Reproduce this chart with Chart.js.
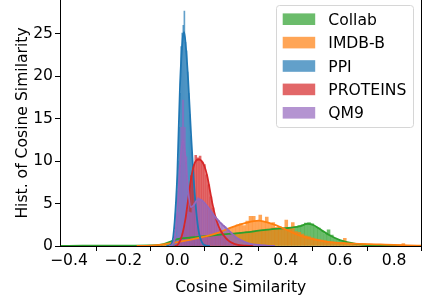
<!DOCTYPE html>
<html>
<head>
<meta charset="utf-8">
<script src="https://cdn.jsdelivr.net/npm/chart.js@4.4.1/dist/chart.umd.min.js"></script>
<style>
  html, body { margin: 0; padding: 0; background: #fff; }
  #wrap { width: 423px; height: 296px; }
</style>
</head>
<body>
<div id="wrap"><canvas id="histChart" width="423" height="296"></canvas></div>
<script>
// series, in legend order
const seriesNames = ['Collab', 'IMDB-B', 'PPI', 'PROTEINS', 'QM9'];
const seriesColors = ['#2ca02c', '#ff7f0e', '#1f77b4', '#d62728', '#9467bd'];

const xTicks = [-0.4, -0.2, 0.0, 0.2, 0.4, 0.6, 0.8];
const yTicks = [0, 5, 10, 15, 20, 25];

// histogram bins: first bin edge, bin width, density per bin
const collabBinStart = -0.06, collabBinWidth = 0.012;
const collabHist = [0.1, 0.2, 0.35, 0.55, 0.75, 0.9, 0.95, 1.0, 1.0, 1.05, 1.1, 1.1, 1.15, 1.15, 1.2, 1.25,
  1.3, 1.3, 1.35, 1.4, 1.45, 1.45, 1.5, 1.55, 1.6, 1.6, 1.7, 1.65, 1.8, 1.75, 1.85, 1.9, 2.0, 1.95, 2.1, 2.0,
  2.15, 2.05, 2.1, 2.2, 2.05, 2.25, 2.4, 2.5, 2.7, 2.75, 2.6, 2.3, 2.1, 1.75, 1.45, 1.9, 1.3, 0.9, 0.75, 0.6,
  0.45, 0.35, 0.25, 0.2, 0.15, 0.1, 0.08, 0.06, 0.05, 0.04, 0.03, 0.02];

const imdbBinStart = -0.06, imdbBinWidth = 0.012;
const imdbHist = [0.05, 0.1, 0.15, 0.25, 0.35, 0.45, 0.5, 0.6, 0.7, 0.75, 0.85, 0.9, 1.0, 1.1, 1.2, 1.35,
  1.45, 1.6, 1.7, 1.85, 2.0, 2.1, 2.3, 2.5, 2.6, 2.4, 2.95, 3.5, 3.5, 2.9, 3.65, 2.87, 3.4, 2.67, 2.75, 2.2,
  2.3, 2.1, 3.07, 2.2, 2.75, 1.7, 1.6, 1.4, 1.2, 1.1, 0.95, 0.85, 0.75, 0.7, 0.6, 0.5, 0.45, 0.4, 0.38, 0.35,
  0.9, 0.4, 0.35, 0.32, 0.3, 0.28, 0.26, 0.24, 0.22, 0.21, 0.2, 0.19, 0.18, 0.17, 0.16, 0.15, 0.14, 0.13, 0.3, 0.02];

const ppiBinStart = -0.02, ppiBinWidth = 0.004;
const ppiHist = [0.2, 0.6, 1.8, 3.8, 6.5, 10, 14, 18, 23.5, 25.1, 26, 27.7, 24, 23, 20.5, 18, 15.5, 13, 11,
  8.5, 6.5, 5, 3.5, 2.2, 1.4, 0.8, 0.4, 0.2];

const proteinsBinStart = 0.0, proteinsBinWidth = 0.008;
const proteinsHist = [0.3, 0.9, 1.5, 2.4, 4.2, 6.5, 8.3, 9.6, 10.7, 10.4, 10.6, 9.9, 9.6, 8.4, 7.2, 5.8, 4.5,
  3.4, 2.6, 2.0, 1.5, 1.2, 0.9, 0.6, 0.45, 0.3, 0.2, 0.12, 0.08];

const qm9BinStart = -0.012, qm9BinWidth = 0.006;
const qm9Hist = [0.3, 1.2, 4, 9.5, 14, 17.2, 14, 10.5, 6.2, 4.0, 3.9, 4.5, 5.0, 5.4, 5.7, 5.6, 5.5, 5.3, 5.1,
  4.8, 4.6, 4.3, 4.1, 3.8, 3.6, 3.4, 3.2, 3.0, 2.8, 2.6, 2.45, 2.3, 2.1, 1.9, 1.7, 1.5, 1.3, 1.1, 0.95, 0.8,
  0.7, 0.6, 0.5, 0.42, 0.35, 0.3, 0.25, 0.2, 0.17, 0.14, 0.12, 0.1, 0.08, 0.06, 0.05, 0.04, 0.03];

// kde curves
const collabKdeX = [-0.43, -0.35, -0.3, -0.2, -0.1, -0.06, -0.03, 0, 0.05, 0.1, 0.15, 0.2, 0.25, 0.3, 0.35, 0.4,
  0.45, 0.48, 0.5, 0.53, 0.56, 0.6, 0.65, 0.7, 0.75, 0.8, 0.85];
const collabKdeY = [0.02, 0.03, 0.03, 0.04, 0.06, 0.15, 0.45, 0.8, 1.0, 1.15, 1.3, 1.45, 1.6, 1.8, 2.0, 2.1,
  2.3, 2.6, 2.5, 1.9, 1.3, 0.7, 0.3, 0.12, 0.05, 0.02, 0.01];

const imdbKdeX = [-0.15, -0.1, -0.05, 0, 0.05, 0.1, 0.15, 0.2, 0.25, 0.3, 0.35, 0.4, 0.45, 0.5, 0.55, 0.6, 0.65,
  0.7, 0.75, 0.8, 0.85, 0.9];
const imdbKdeY = [0, 0.05, 0.2, 0.45, 0.75, 1.1, 1.55, 2.2, 2.7, 3.0, 2.6, 1.95, 1.25, 0.8, 0.5, 0.38, 0.28,
  0.22, 0.18, 0.14, 0.08, 0.03];

const ppiKdeX = [-0.04, -0.03, -0.02, -0.01, 0, 0.01, 0.02, 0.025, 0.03, 0.04, 0.05, 0.06, 0.07, 0.08, 0.09, 0.1, 0.12];
const ppiKdeY = [0, 0.05, 0.3, 2.8, 8.5, 19, 24.5, 25.2, 24, 19.5, 13.5, 8, 4, 1.5, 0.5, 0.1, 0];

const proteinsKdeX = [-0.01, 0, 0.01, 0.02, 0.03, 0.04, 0.05, 0.06, 0.07, 0.08, 0.09, 0.1, 0.11, 0.12, 0.13,
  0.14, 0.15, 0.16, 0.17, 0.18, 0.19, 0.2, 0.22, 0.25, 0.28];
const proteinsKdeY = [0, 0.1, 0.6, 1.6, 3.2, 5.5, 7.8, 9.4, 10.1, 10.2, 10, 9.4, 8.3, 6.6, 4.9, 3.5, 2.5, 1.8,
  1.3, 0.9, 0.6, 0.4, 0.15, 0.03, 0];

const qm9KdeX = [-0.03, -0.02, -0.01, 0, 0.01, 0.02, 0.03, 0.04, 0.05, 0.06, 0.07, 0.08, 0.09, 0.1, 0.12, 0.14,
  0.16, 0.18, 0.2, 0.22, 0.24, 0.26, 0.28, 0.3, 0.33, 0.36];
const qm9KdeY = [0, 0.1, 0.8, 4, 9.5, 12.5, 10.5, 6.5, 4.6, 4.8, 5.3, 5.5, 5.4, 5.1, 4.3, 3.4, 2.7, 2.1, 1.5,
  0.95, 0.6, 0.35, 0.2, 0.12, 0.05, 0];

const hists = [
  [collabBinStart, collabBinWidth, collabHist],
  [imdbBinStart, imdbBinWidth, imdbHist],
  [ppiBinStart, ppiBinWidth, ppiHist],
  [proteinsBinStart, proteinsBinWidth, proteinsHist],
  [qm9BinStart, qm9BinWidth, qm9Hist]
];
const kdes = [
  [collabKdeX, collabKdeY], [imdbKdeX, imdbKdeY], [ppiKdeX, ppiKdeY],
  [proteinsKdeX, proteinsKdeY], [qm9KdeX, qm9KdeY]
];

// plot frame (pixels) -- fixed so bar widths follow the bin widths
const X_MIN = -0.433, X_MAX = 0.901, Y_MAX = 29.0;
const AREA_LEFT = 60, AREA_RIGHT = 421.5, AXIS_H = 50;
const pxPerUnit = (AREA_RIGHT - AREA_LEFT) / (X_MAX - X_MIN);
const FONT = { family: 'DejaVu Sans', size: 15.6 };

function alpha(hex, a) {
  const n = parseInt(hex.slice(1), 16);
  return `rgba(${n >> 16}, ${(n >> 8) & 255}, ${n & 255}, ${a})`;
}

const datasets = [];
hists.forEach(([start, width, vals], i) => {
  datasets.push({
    type: 'bar',
    label: seriesNames[i],
    data: vals.map((v, k) => ({ x: start + (k + 0.5) * width, y: v })),
    backgroundColor: alpha(seriesColors[i], 0.7),
    borderWidth: 0,
    grouped: false,
    barThickness: width * pxPerUnit * 0.9,
    order: 9 - i
  });
});
kdes.forEach(([xs, ys], i) => {
  datasets.push({
    type: 'line',
    label: seriesNames[i] + ' kde',
    data: xs.map((x, k) => ({ x: x, y: ys[k] })),
    borderColor: seriesColors[i],
    borderWidth: 1.8,
    pointRadius: 0,
    fill: false,
    cubicInterpolationMode: 'monotone',
    order: 4 - i
  });
});

const frame = {
  id: 'frame',
  afterDraw(chart) {
    const { ctx, chartArea: a } = chart;
    ctx.save();
    ctx.strokeStyle = '#000';
    ctx.lineWidth = 1;
    ctx.beginPath();
    ctx.moveTo(a.right, a.top);
    ctx.lineTo(a.right, a.bottom);
    ctx.stroke();
    ctx.restore();
  }
};

const legendBox = {
  id: 'legendBox',
  afterDraw(chart) {
    const ctx = chart.ctx;
    ctx.save();
    ctx.beginPath();
    ctx.roundRect(276.5, 5.5, 137, 122, 3);
    ctx.fillStyle = 'rgba(255,255,255,0.8)';
    ctx.fill();
    ctx.strokeStyle = '#d6d6d6';
    ctx.lineWidth = 1;
    ctx.stroke();
    ctx.font = `${FONT.size}px "${FONT.family}"`;
    ctx.textBaseline = 'alphabetic';
    seriesNames.forEach((name, i) => {
      const cy = 19.2 + i * 23.4;
      ctx.fillStyle = alpha(seriesColors[i], 0.7);
      ctx.fillRect(282.7, cy - 5.8, 32.5, 11.6);
      ctx.fillStyle = '#000';
      ctx.fillText(name, 328.3, cy + 5.6);
    });
    ctx.restore();
  }
};

const fmt = v => (v < 0 ? '\u2212' : '') + Math.abs(v).toFixed(1);

new Chart(document.getElementById('histChart'), {
  type: 'bar',
  data: { datasets: datasets },
  options: {
    responsive: false,
    animation: false,
    devicePixelRatio: 1,
    layout: { padding: { left: 0, right: 423 - AREA_RIGHT, top: 0, bottom: 0 } },
    plugins: { legend: { display: false }, tooltip: { enabled: false } },
    scales: {
      x: {
        type: 'linear',
        min: X_MIN,
        max: X_MAX,
        offset: false,
        grid: { drawOnChartArea: false, drawTicks: true, tickLength: 5, color: '#000' },
        border: { display: true, color: '#000', width: 1 },
        ticks: { color: '#000', font: FONT, padding: 1, callback: v => fmt(v) },
        title: { display: true, text: 'Cosine Similarity', color: '#000', font: FONT, padding: { top: 0, bottom: -1 } },
        afterBuildTicks: axis => { axis.ticks = xTicks.map(v => ({ value: v })); },
        afterFit: axis => { axis.height = AXIS_H; axis.paddingLeft = 0; axis.paddingRight = 0; }
      },
      y: {
        type: 'linear',
        min: 0,
        max: Y_MAX,
        grid: { drawOnChartArea: false, drawTicks: true, tickLength: 5, color: '#000' },
        border: { display: true, color: '#000', width: 1 },
        ticks: { color: '#000', font: FONT, padding: 2, callback: v => String(v) },
        title: { display: true, text: 'Hist. of Cosine Similarity', color: '#000', font: FONT, padding: { top: 13.5, bottom: 0 } },
        afterBuildTicks: axis => { axis.ticks = yTicks.map(v => ({ value: v })); },
        afterFit: axis => { axis.width = AREA_LEFT; axis.paddingTop = 0; axis.paddingBottom = 0; }
      }
    }
  },
  plugins: [frame, legendBox]
});
</script>
</body>
</html>
